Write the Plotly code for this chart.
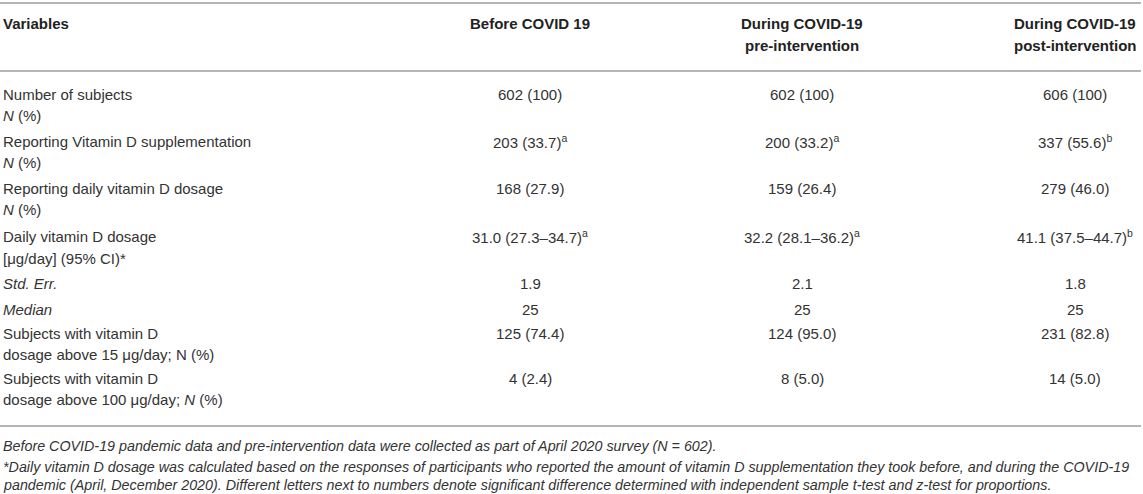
import plotly.graph_objects as go

W, H = 1143, 494

column_headers = [
    ["Variables"],
    ["Before COVID 19"],
    ["During COVID-19", "pre-intervention"],
    ["During COVID-19", "post-intervention"],
]

variable_labels = [
    ["Number of subjects", "<i>N</i> (%)"],
    ["Reporting Vitamin D supplementation", "<i>N</i> (%)"],
    ["Reporting daily vitamin D dosage", "<i>N</i> (%)"],
    ["Daily vitamin D dosage", "[μg/day] (95% CI)*"],
    ["<i>Std. Err.</i>"],
    ["<i>Median</i>"],
    ["Subjects with vitamin D", "dosage above 15 μg/day; N (%)"],
    ["Subjects with vitamin D", "dosage above 100 μg/day; <i>N</i> (%)"],
]

before_covid = [
    "602 (100)", "203 (33.7)<sup>a</sup>", "168 (27.9)", "31.0 (27.3–34.7)<sup>a</sup>",
    "1.9", "25", "125 (74.4)", "4 (2.4)",
]
pre_intervention = [
    "602 (100)", "200 (33.2)<sup>a</sup>", "159 (26.4)", "32.2 (28.1–36.2)<sup>a</sup>",
    "2.1", "25", "124 (95.0)", "8 (5.0)",
]
post_intervention = [
    "606 (100)", "337 (55.6)<sup>b</sup>", "279 (46.0)", "41.1 (37.5–44.7)<sup>b</sup>",
    "1.8", "25", "231 (82.8)", "14 (5.0)",
]

footnotes = [
    "Before COVID-19 pandemic data and pre-intervention data were collected as part of April 2020 survey (N = 602).",
    "*Daily vitamin D dosage was calculated based on the responses of participants who reported the amount of "
    "vitamin D supplementation they took before, and during the COVID-19",
    "pandemic (April, December 2020). Different letters next to numbers denote significant difference determined "
    "with independent sample t-test and z-test for proportions.",
]

# layout in pixels (from the top-left corner)
col_x = [2, 530, 802, 1075]
header_y = [23, 45]
row_y = [94, 141, 188, 237, 283, 309, 333, 378]
line_gap = 21
rule_y = [3, 71, 426]
foot_y = [446, 467, 485]

FONT = "Liberation Sans, Arial, Helvetica, sans-serif"
TEXT = "#333333"


def px(x):
    return x / W


def py(y):
    return 1 - y / H


annotations = []


def add_text(text, x, y, anchor="center", size=15, color=TEXT):
    annotations.append(dict(
        text=text, x=px(x), y=py(y), xref="paper", yref="paper",
        xanchor=anchor, yanchor="middle", showarrow=False, borderpad=0,
        font=dict(family=FONT, size=size, color=color),
    ))


for ci, header in enumerate(column_headers):
    for li, line in enumerate(header):
        add_text(f"<b>{line}</b>", col_x[ci], header_y[li],
                 anchor="left" if ci == 0 else "center", color="#222222")

for ri, label in enumerate(variable_labels):
    for li, line in enumerate(label):
        add_text(line, col_x[0], row_y[ri] + li * line_gap, anchor="left")
    for ci, values in enumerate([before_covid, pre_intervention, post_intervention], start=1):
        add_text(values[ri], col_x[ci], row_y[ri], anchor="center")

for fi, note in enumerate(footnotes):
    add_text(f"<i>{note}</i>", col_x[0], foot_y[fi], anchor="left", size=14.3)

shapes = [
    dict(type="line", xref="paper", yref="paper", x0=0, x1=px(1141), y0=py(y), y1=py(y),
         line=dict(color="#b4b4b4", width=2))
    for y in rule_y
]

fig = go.Figure()
fig.update_layout(
    width=W, height=H,
    margin=dict(l=0, r=0, t=0, b=0),
    paper_bgcolor="white", plot_bgcolor="white",
    xaxis=dict(visible=False, range=[0, 1]),
    yaxis=dict(visible=False, range=[0, 1]),
    annotations=annotations,
    shapes=shapes,
    showlegend=False,
)

# the page's default 8px body margin would push the table off the right/bottom edge
fig.write_html(
    "out.html",
    config={"displayModeBar": False},
    post_script="document.body.style.margin='0';",
)
